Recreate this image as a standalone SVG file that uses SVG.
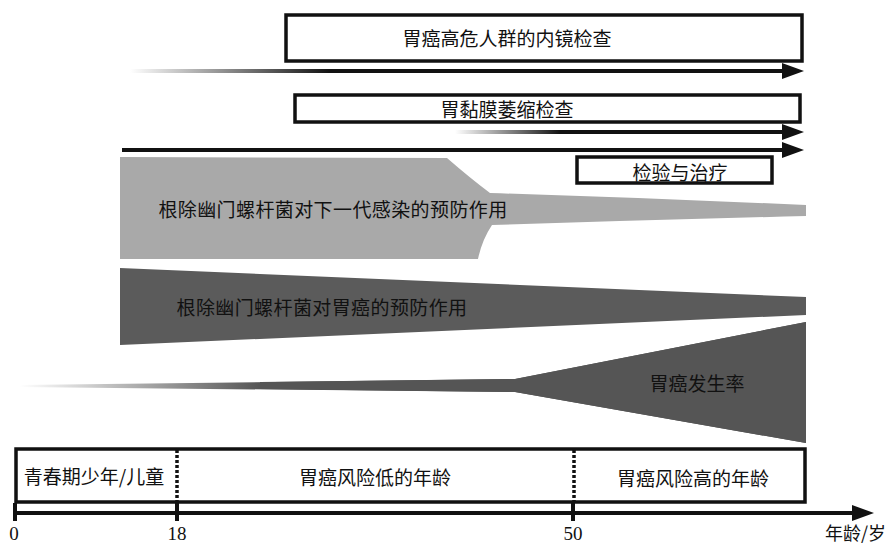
<svg xmlns="http://www.w3.org/2000/svg" width="891" height="545" viewBox="0 0 891 545">
<style>
.t{font-family:"Noto Sans CJK SC","Noto Sans",sans-serif;font-size:19px;fill:#111;text-anchor:middle;dominant-baseline:central}
.n{font-family:"Liberation Serif",serif;font-size:19px;fill:#111;text-anchor:middle}
.box{fill:#fff;stroke:#111;stroke-width:3.5}
.ln{stroke:#111;stroke-width:4;fill:none}
.dot{stroke:#111;stroke-width:3.5;stroke-dasharray:3 2}
.head{fill:#111}
</style>
<defs>
<linearGradient id="g1" x1="130" y1="0" x2="330" y2="0" gradientUnits="userSpaceOnUse">
<stop offset="0" stop-color="#111" stop-opacity="0"/><stop offset="1" stop-color="#111"/>
</linearGradient>
<linearGradient id="g2" x1="455" y1="0" x2="560" y2="0" gradientUnits="userSpaceOnUse">
<stop offset="0" stop-color="#111" stop-opacity="0"/><stop offset="1" stop-color="#111"/>
</linearGradient>
<linearGradient id="g3" x1="20" y1="0" x2="260" y2="0" gradientUnits="userSpaceOnUse">
<stop offset="0" stop-color="#555" stop-opacity="0"/><stop offset="1" stop-color="#555"/>
</linearGradient>
</defs>
<rect width="891" height="545" fill="#fff"/>

<g id="connectors">
<line x1="130" y1="71" x2="785" y2="71" stroke="url(#g1)" stroke-width="4"/>
<polygon class="head" points="782,63 804,71 782,79"/>
<line x1="455" y1="132" x2="785" y2="132" stroke="url(#g2)" stroke-width="4"/>
<polygon class="head" points="782,124 804,132 782,140"/>
<line x1="122" y1="150" x2="785" y2="150" class="ln"/>
<polygon class="head" points="782,142 804,150 782,158"/>
<line x1="15" y1="513" x2="855" y2="513" class="ln"/>
<polygon class="head" points="852,505 874,513 852,521"/>
<line x1="15" y1="503" x2="15" y2="521" class="ln" stroke-width="3"/>
<line x1="177" y1="503" x2="177" y2="521" class="ln" stroke-width="3"/>
<line x1="573" y1="503" x2="573" y2="521" class="ln" stroke-width="3"/>
</g>

<g id="endoscopy">
<rect class="box" x="286" y="15" width="516" height="46"/>
<text class="t" x="507" y="37">胃癌高危人群的内镜检查</text>
</g>
<g id="atrophy">
<rect class="box" x="295" y="95" width="505" height="27"/>
<text class="t" x="507" y="108">胃黏膜萎缩检查</text>
</g>
<g id="test-treat">
<rect class="box" x="577" y="157" width="195" height="26"/>
<text class="t" x="680" y="171">检验与治疗</text>
</g>

<g id="next-generation">
<path d="M120,157 L447,158 Q470,178 490,193 Q650,198 806,205 L806,216 Q650,220 492,225 Q482,240 478,259 L120,259 Z" fill="#a9a9a9"/>
<text class="t" x="333" y="208" letter-spacing="0.4">根除幽门螺杆菌对下一代感染的预防作用</text>
</g>

<g id="gastric-cancer-prevention">
<polygon points="120,268 806,297 806,315 120,345" fill="#5b5b5b"/>
<text class="t" x="322" y="306" letter-spacing="0.4">根除幽门螺杆菌对胃癌的预防作用</text>
</g>

<g id="incidence">
<path d="M20,385 L515,379 L806,322 L806,443 L515,392 L20,387 Z" fill="url(#g3)"/>
<path d="M260,382 L515,379 L806,322 L806,443 L515,392 L260,389 Z" fill="#555"/>
<text class="t" x="697" y="382">胃癌发生率</text>
</g>

<g id="age-band">
<rect class="box" x="16" y="449" width="789" height="53"/>
<line class="dot" x1="177" y1="450" x2="177" y2="501"/>
<line class="dot" x1="574" y1="450" x2="574" y2="501"/>
<text class="t" x="94" y="475">青春期少年/儿童</text>
<text class="t" x="375" y="476">胃癌风险低的年龄</text>
<text class="t" x="693" y="477">胃癌风险高的年龄</text>
</g>

<g id="axis-labels">
<text class="n" x="14" y="540">0</text>
<text class="n" x="177" y="540">18</text>
<text class="n" x="573" y="540">50</text>
<text class="t" x="886" y="532" style="text-anchor:end;font-size:18px">年龄/岁</text>
</g>
</svg>
